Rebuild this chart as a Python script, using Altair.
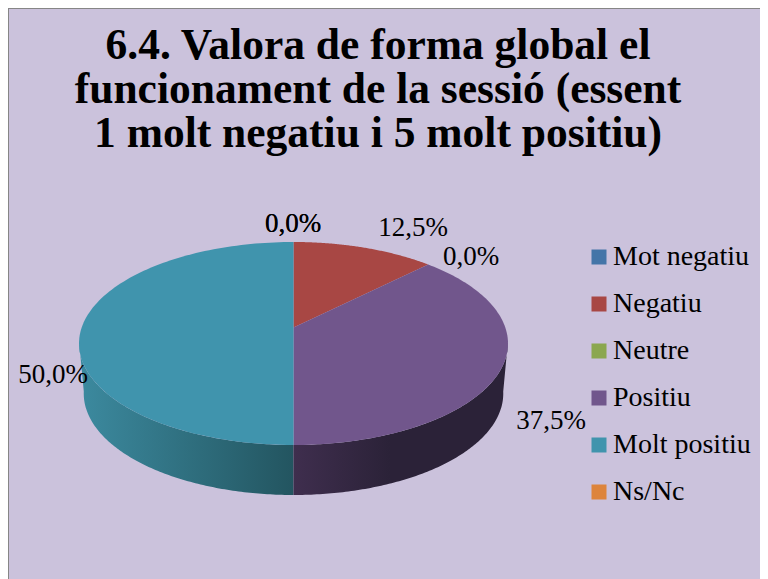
import math
import altair as alt
import pandas as pd

title_lines = ["6.4. Valora de forma global el",
               "funcionament de la sessió (essent",
               "1 molt negatiu i 5 molt positiu)"]
categories = ["Mot negatiu", "Negatiu", "Neutre", "Positiu", "Molt positiu", "Ns/Nc"]
values = [0.0, 12.5, 0.0, 37.5, 50.0, 0.0]
colors = ["#4475a8", "#a84744", "#8ba74f", "#71568c", "#4094ad", "#dd843c"]
labels = ["0,0%", "12,5%", "0,0%", "37,5%", "50,0%", "0,0%"]
label_x = [285, 405, 463, 543, 45, 285]
label_y = [216, 220, 249, 413, 367, 216]

W, H = 752, 571
FONT = "Liberation Serif"
BG = "#cbc2dc"
APEX_X, APEX_Y, A, B, K, DEPTH, SHRINK = 285.5, 319.5, 211.8, 98.98, 0.1576, 50, 0.978


def pt(angle, bottom=False):
    a = math.radians(angle)
    d = 1 + K * math.cos(a)
    x = A * math.sin(a) / d
    y = B * math.cos(a) / d
    if bottom:
        return APEX_X + x * SHRINK, APEX_Y - y + DEPTH
    return APEX_X + x, APEX_Y - y


def sweep(a0, a1, n=120):
    return [a0 + (a1 - a0) * i / n for i in range(n + 1)]


top_rows = []
start = 0.0
for cat, v in zip(categories, values):
    end = start + v * 3.6
    if v > 0:
        pts = [(APEX_X, APEX_Y)] + [pt(a) for a in sweep(start, end)]
        for i, (x, y) in enumerate(pts):
            top_rows.append({"cat": cat, "i": i, "x": x, "y": y})
    start = end


def side(a0, a1, name):
    pts = [pt(a) for a in sweep(a0, a1)] + [pt(a, True) for a in sweep(a1, a0)]
    return pd.DataFrame([{"cat": name, "i": i, "x": x, "y": y} for i, (x, y) in enumerate(pts)])


xs = alt.Scale(domain=[0, W], range=[0, W])
ys = alt.Scale(domain=[0, H], range=[0, H])
X = alt.X("x:Q", scale=xs, axis=None)
Y = alt.Y("y:Q", scale=ys, axis=None)
fill_scale = alt.Scale(domain=categories, range=colors)


def grad(*stops):
    return alt.LinearGradient(gradient="linear", x1=0, x2=1, y1=0, y2=0,
                              stops=[alt.GradientStop(offset=o, color=c) for o, c in stops])


side_teal = alt.Chart(side(180, 262, "Molt positiu")).mark_line(
    fill=grad((0, "#3c8a9f"), (1, "#235560")), strokeWidth=0).encode(x=X, y=Y, order="i:Q")
side_purple = alt.Chart(side(98, 180, "Positiu")).mark_line(
    fill=grad((0, "#3f2e4e"), (0.45, "#2b2238"), (1, "#2b2238")), strokeWidth=0).encode(
    x=X, y=Y, order="i:Q")

top = alt.Chart(pd.DataFrame(top_rows)).mark_line(strokeWidth=0).encode(
    x=X, y=Y, order="i:Q", detail="cat:N",
    fill=alt.Fill("cat:N", scale=fill_scale, sort=categories,
                  legend=alt.Legend(orient="none", legendX=577, legendY=235, title=None,
                                    symbolType="square", symbolSize=225, symbolStrokeWidth=0,
                                    symbolOpacity=1, labelFontSize=28, labelFont=FONT,
                                    labelColor="#000000", labelLimit=200, rowPadding=19,
                                    labelOffset=0)))

legend_pts = alt.Chart(pd.DataFrame({"cat": categories, "x": [0] * 6, "y": [0] * 6})).mark_point(
    opacity=0, filled=True).encode(
    x=X, y=Y, fill=alt.Fill("cat:N", scale=fill_scale, sort=categories))

text = alt.Chart(pd.DataFrame({"t": labels, "x": label_x, "y": label_y})).mark_text(
    font=FONT, fontSize=27, color="#000000").encode(x=X, y=Y, text="t:N")

frame_left = alt.Chart(pd.DataFrame({"a": [0]})).mark_rule(color="#868686", strokeWidth=2).encode(
    x=alt.value(0), y=alt.value(0), y2=alt.value(H))
frame_top = alt.Chart(pd.DataFrame({"a": [0]})).mark_rule(color="#868686", strokeWidth=2).encode(
    y=alt.value(0), x=alt.value(0), x2=alt.value(W))

chart = alt.layer(side_teal, side_purple, top, legend_pts, text, frame_left, frame_top).properties(
    width=W, height=H, background=BG, padding=0, autosize=alt.AutoSizeParams(type="none"),
    title=alt.TitleParams(text=title_lines, font=FONT, fontSize=43.5, fontWeight="bold",
                          color="#000000", anchor="start", align="center", frame="group",
                          baseline="top", lineHeight=44, dx=370, dy=151, offset=0),
).configure_view(stroke=None)

chart.save("out.html", embed_options={"renderer": "svg", "actions": False})
